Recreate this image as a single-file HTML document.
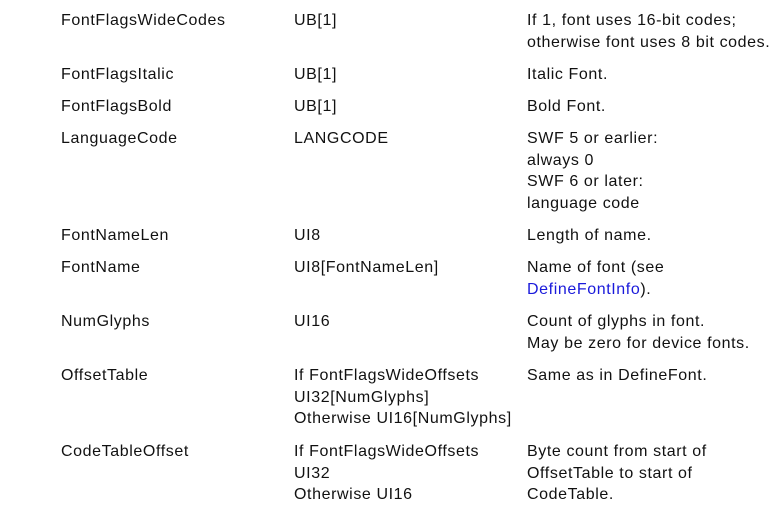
<!DOCTYPE html>
<html><head><meta charset="utf-8"><style>
html,body{margin:0;padding:0;background:#fff;width:769px;height:506px;overflow:hidden}
div{position:absolute;font-family:"Liberation Sans",Arial,sans-serif;font-size:16px;line-height:21.6px;color:#111;white-space:nowrap;letter-spacing:0.6px}
.a{left:61px}.b{left:294px}.c{left:527px}
a{color:#1a1adb;text-decoration:none}
</style></head><body>
<div class="a" style="top:10px">FontFlagsWideCodes</div>
<div class="b" style="top:10px">UB[1]</div>
<div class="c" style="top:10px">If 1, font uses 16-bit codes;<br>otherwise font uses 8 bit codes.</div>

<div class="a" style="top:64px">FontFlagsItalic</div>
<div class="b" style="top:64px">UB[1]</div>
<div class="c" style="top:64px">Italic Font.</div>

<div class="a" style="top:96px">FontFlagsBold</div>
<div class="b" style="top:96px">UB[1]</div>
<div class="c" style="top:96px">Bold Font.</div>

<div class="a" style="top:128px">LanguageCode</div>
<div class="b" style="top:128px">LANGCODE</div>
<div class="c" style="top:128px">SWF 5 or earlier:<br>always 0<br>SWF 6 or later:<br>language code</div>

<div class="a" style="top:225px">FontNameLen</div>
<div class="b" style="top:225px">UI8</div>
<div class="c" style="top:225px">Length of name.</div>

<div class="a" style="top:257px">FontName</div>
<div class="b" style="top:257px">UI8[FontNameLen]</div>
<div class="c" style="top:257px">Name of font (see<br><a>DefineFontInfo</a>).</div>

<div class="a" style="top:311px">NumGlyphs</div>
<div class="b" style="top:311px">UI16</div>
<div class="c" style="top:311px">Count of glyphs in font.<br>May be zero for device fonts.</div>

<div class="a" style="top:365px">OffsetTable</div>
<div class="b" style="top:365px">If FontFlagsWideOffsets<br>UI32[NumGlyphs]<br>Otherwise UI16[NumGlyphs]</div>
<div class="c" style="top:365px">Same as in DefineFont.</div>

<div class="a" style="top:441px">CodeTableOffset</div>
<div class="b" style="top:441px">If FontFlagsWideOffsets<br>UI32<br>Otherwise UI16</div>
<div class="c" style="top:441px">Byte count from start of<br>OffsetTable to start of<br>CodeTable.</div>
</body></html>
